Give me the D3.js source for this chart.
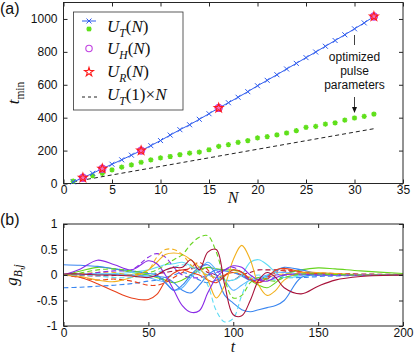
<!DOCTYPE html>
<html>
<head>
<meta charset="utf-8">
<script src="https://cdn.jsdelivr.net/npm/d3@7"></script>
<style>
body { margin: 0; background: #fff; }
svg { display: block; }
.tk text { font-family: "Liberation Sans", Arial, sans-serif; font-size: 12px; fill: #111; }
.tk line { stroke: #262626; }
.mth { font-family: "Liberation Serif", "Times New Roman", serif; fill: #111; }
.lbl { font-family: "Liberation Sans", Arial, sans-serif; fill: #111; }
</style>
</head>
<body>
<svg id="chart" width="415" height="357"></svg>
<script>
// ---- datos panel (a) ----
const nAll = [1,2,3,4,5,6,7,8,9,10,11,12,13,14,15,16,17,18,19,20,21,22,23,24,25,26,27,28,29,30,31,32];
const utVals = [10,35,62,90,117,144,172,200,230,261,294,327,357,390,424,459,491,524,558,594,627,661,696,730,765,799,834,869,904,940,976,1015];
const greenVals = [14,30,48,62,83,99,113,129,144,156,164,176,184,191,205,226,236,250,261,277,285,295,307,321,341,347,361,369,385,398,408,422];
const nSub = [2,4,8,16,32];
const uhVals = [35,90,200,459,1015];
const urVals = [35,90,200,459,1015];
const nLin = [1,32];
const linVals = [10.4,333];
const xTicksA = [0,5,10,15,20,25,30,35];
const yTicksA = [0,200,400,600,800,1000];

// ---- datos panel (b) ----
const tGrid = [0,10,20,30,40,50,55,60,65,70,75,80,85,90,95,100,105,110,115,120,125,130,140,150,160,175,200];
const gRedS = [0,-0.05,-0.17,-0.32,-0.45,-0.48,-0.38,-0.12,0.04,0.1,0.05,0,-0.1,-0.15,-0.02,0.1,0.06,-0.08,-0.15,-0.05,0.1,0.13,0.06,0.02,0.01,0,0];
const gPurpleS = [0,0.12,0.29,0.2,0.1,0.28,0.22,0,-0.3,-0.6,-0.73,-0.7,-0.35,-0.05,0.1,0.18,0.15,0,-0.1,-0.12,-0.05,0,0.02,0,0,0,0];
const gGreenD = [0,0.04,0.1,0.12,0.08,0.05,0.1,0.2,0.3,0.4,0.6,0.74,0.77,0.45,-0.1,-0.45,-0.4,-0.15,-0.05,-0.1,-0.12,-0.05,0.02,0.02,0.01,0,0];
const gDarkRedS = [0.02,0.02,0,0,-0.02,-0.05,0,0.1,0.15,0.15,0.3,0.1,0.45,0.5,-0.2,-0.78,-0.8,-0.5,-0.1,0.05,-0.05,-0.25,-0.37,-0.22,-0.1,-0.03,0];
const gYellowS = [0,-0.03,-0.1,-0.13,-0.05,0.1,0.25,0.4,0.43,0.4,0.3,0.15,-0.1,-0.45,-0.2,0.3,0.58,0.3,-0.2,-0.4,-0.3,-0.1,0.05,0.05,0.03,0.01,0];
const gOrangeD = [0,0.02,0.05,0.05,0,0.1,0.35,0.5,0.5,0.4,0.2,0.05,0,-0.05,0,0.05,0.05,-0.05,-0.1,-0.05,0,0.02,0.02,0.01,0,0,0];
const gCyanD = [0,0,-0.02,-0.05,-0.05,0,0.05,0.1,0.15,0.2,0.15,0.05,-0.2,-0.7,-0.92,-0.85,-0.4,-0.05,0,-0.05,-0.1,-0.05,0,0,0,0,0];
const gCyanS = [0,0.01,0.02,0.03,0.05,0.1,0.15,0.2,0.22,0.25,0.18,0.1,0,-0.05,-0.1,-0.1,0,0.25,0.3,0.2,0.05,-0.05,-0.02,0,0,0,0];
const gBlueS1 = [0.2,0.19,0.17,0.12,0.08,0.03,0,-0.15,-0.3,-0.2,0,0.15,0.2,0,-0.4,-0.55,-0.68,-0.72,-0.68,-0.64,-0.6,-0.5,-0.05,0,0,0,0];
const gBlueS2 = [0.02,0.02,0.02,0.01,0,-0.02,-0.03,-0.05,-0.15,-0.3,-0.35,-0.2,0,0.1,0.08,0.05,-0.02,-0.1,-0.08,-0.02,0.08,0.15,0.1,0.03,0.01,0,0];
const gBlueD = [-0.25,-0.24,-0.22,-0.2,-0.17,-0.12,-0.1,-0.05,0,0.05,0,-0.1,-0.15,-0.1,0,0.05,0,-0.08,-0.1,-0.08,-0.05,-0.05,-0.05,-0.03,-0.02,-0.01,0];
const gLightBlueS = [0,0.01,0.02,0.01,0,-0.05,-0.1,-0.15,-0.3,-0.25,-0.05,0.1,0.25,0.1,-0.1,-0.3,-0.2,-0.1,-0.05,0,0.05,0.05,0.02,0,0,0,0];
const gRedD = [0,-0.05,-0.1,-0.08,-0.12,-0.2,-0.2,-0.15,-0.05,0.05,0.15,0.25,0.1,-0.1,0,0.05,0,-0.1,-0.15,-0.08,0.05,0.1,0.05,0.03,0.02,0.01,0];
const gGreenS = [0,0.08,0.15,0.12,0.05,0,-0.05,-0.1,-0.15,-0.1,0,0.1,0.15,0.12,0.1,0.1,0.05,-0.1,-0.2,-0.25,-0.15,0,0.1,0.14,0.12,0.08,0.03];
const gPurpleD = [0,0,0.05,0.08,0.1,0.35,0.42,0.35,0.15,0,-0.05,-0.05,0,0.05,0.1,0.15,0.05,-0.1,-0.1,-0.05,0,0,0,0,0,0,0];
const gDarkRedD = [0,-0.01,-0.02,-0.01,0,0.02,0.03,0.05,0.08,0.1,0.12,0.15,0.05,0,-0.1,-0.1,0,0.05,0.1,0.1,0.1,0.08,0.06,0.04,0.03,0.02,0.01];
const xTicksB = [0,50,100,150,200];
const yTicksB = [-1,-0.5,0,0.5,1];

// estilos de las curvas (color, discontinua)
const gCurves = [gBlueD, gDarkRedD, gGreenS, gBlueS2, gLightBlueS, gRedD, gCyanS, gOrangeD, gPurpleD, gRedS, gBlueS1, gYellowS, gCyanD, gPurpleS, gGreenD, gDarkRedS];
const gColors = ['#3a86f0','#a8123a','#66d41e','#3a86f0','#5ab4ff','#e8401a','#5fdcf5','#f2b01c','#8a2ae6','#e8401a','#3a86f0','#f2b01c','#5fdcf5','#8a2ae6','#66d41e','#a8123a'];
const gDashed = [true,true,false,false,false,true,false,true,true,false,false,false,true,false,true,false];

const svg = d3.select('#chart');

function drawFrame(x, y, xt, yt, xFmt, yFmt) {
    const [l, r] = x.range(), [b, t] = y.range();
    svg.append('g').attr('class', 'tk').attr('transform', `translate(0,${b})`)
        .call(d3.axisBottom(x).tickValues(xt).tickSizeInner(-4).tickSizeOuter(0).tickPadding(2).tickFormat(xFmt))
        .call(g => g.select('.domain').remove());
    svg.append('g').attr('class', 'tk').attr('transform', `translate(0,${t})`)
        .call(d3.axisTop(x).tickValues(xt).tickSizeInner(-4).tickSizeOuter(0).tickFormat(''))
        .call(g => g.select('.domain').remove());
    svg.append('g').attr('class', 'tk').attr('transform', `translate(${l},0)`)
        .call(d3.axisLeft(y).tickValues(yt).tickSizeInner(-4).tickSizeOuter(0).tickPadding(6).tickFormat(yFmt))
        .call(g => g.select('.domain').remove());
    svg.append('g').attr('class', 'tk').attr('transform', `translate(${r},0)`)
        .call(d3.axisRight(y).tickValues(yt).tickSizeInner(-4).tickSizeOuter(0).tickFormat(''))
        .call(g => g.select('.domain').remove());
    svg.append('rect').attr('x', l).attr('y', t).attr('width', r - l).attr('height', b - t)
        .attr('fill', 'none').attr('stroke', '#262626').attr('stroke-width', 1);
}

// texto matemático: [texto, estilo] con i = cursiva, n = normal, s = subíndice
function mathText(parent, x, y, size, parts, anchor) {
    const txt = parent.append('text').attr('class', 'mth').attr('x', x).attr('y', y)
        .attr('font-size', size).attr('text-anchor', anchor || 'start');
    let shift = 0;
    parts.forEach(p => {
        const sub = p[1].includes('s');
        const dy = (sub ? size * 0.28 : 0) - shift;
        shift += dy;
        txt.append('tspan').text(p[0])
            .attr('dy', dy)
            .attr('font-size', sub ? size * 0.68 : size)
            .attr('font-style', p[1].includes('i') ? 'italic' : 'normal');
    });
    return txt;
}

///// PANEL (a) /////
const xA = d3.scaleLinear().domain([0, 35]).range([63.5, 403]);
const yA = d3.scaleLinear().domain([0, 1100]).range([183.5, 2.5]);
drawFrame(xA, yA, xTicksA, yTicksA, d => d, d => d);

const xMark = 'M-2.5,-2.5L2.5,2.5M-2.5,2.5L2.5,-2.5';
const astMark = 'M-2.6,0H2.6M0,-2.6V2.6M-1.9,-1.9L1.9,1.9M-1.9,1.9L1.9,-1.9';
const starSym = d3.symbol(d3.symbolStar, 24);

svg.append('path')
    .datum(nLin.map((n, i) => [n, linVals[i]]))
    .attr('d', d3.line().x(d => xA(d[0])).y(d => yA(d[1])))
    .attr('fill', 'none').attr('stroke', '#222').attr('stroke-width', 1).attr('stroke-dasharray', '4,3');

svg.selectAll('.gr').data(nAll).enter().append('path')
    .attr('transform', (d, i) => `translate(${xA(d)},${yA(greenVals[i])})`)
    .attr('d', astMark).attr('stroke', '#5fe01a').attr('stroke-width', 1.4).attr('fill', 'none');

svg.append('path')
    .datum(nAll.map((n, i) => [n, utVals[i]]))
    .attr('d', d3.line().x(d => xA(d[0])).y(d => yA(d[1])))
    .attr('fill', 'none').attr('stroke', '#2f5cee').attr('stroke-width', 1);
svg.selectAll('.ut').data(nAll).enter().append('path')
    .attr('transform', (d, i) => `translate(${xA(d)},${yA(utVals[i])})`)
    .attr('d', xMark).attr('stroke', '#2f5cee').attr('stroke-width', 1);

svg.selectAll('.uh').data(nSub).enter().append('circle')
    .attr('cx', d => xA(d)).attr('cy', (d, i) => yA(uhVals[i])).attr('r', 3.6)
    .attr('fill', '#f070c0').attr('stroke', '#c040e0').attr('stroke-width', 1.1);
svg.selectAll('.ur').data(nSub).enter().append('path')
    .attr('transform', (d, i) => `translate(${xA(d)},${yA(urVals[i])})`)
    .attr('d', starSym).attr('fill', 'none').attr('stroke', '#ff1a1a').attr('stroke-width', 1.1);

// anotación
const annX = xA(30);
svg.append('line').attr('x1', annX).attr('x2', annX).attr('y1', 35).attr('y2', 45).attr('stroke', '#111').attr('stroke-width', 0.8);
['optimized', 'pulse', 'parameters'].forEach((s, i) => {
    svg.append('text').attr('class', 'lbl').attr('x', annX).attr('y', 61 + i * 14)
        .attr('font-size', 12).attr('text-anchor', 'middle').text(s);
});
svg.append('line').attr('x1', annX).attr('x2', annX).attr('y1', 97).attr('y2', 108).attr('stroke', '#111').attr('stroke-width', 0.8);
svg.append('path').attr('d', `M${annX - 2.5},107L${annX + 2.5},107L${annX},113Z`).attr('fill', '#111');

// leyenda
const leg = svg.append('g');
leg.append('rect').attr('x', 73.5).attr('y', 12).attr('width', 109.5).attr('height', 98)
    .attr('fill', '#fff').attr('stroke', '#333').attr('stroke-width', 0.8);
leg.append('line').attr('x1', 82).attr('x2', 96).attr('y1', 21).attr('y2', 21).attr('stroke', '#2f5cee').attr('stroke-width', 1);
leg.append('path').attr('transform', 'translate(89,21)').attr('d', xMark).attr('stroke', '#2f5cee').attr('stroke-width', 1);
leg.append('path').attr('transform', 'translate(89,29)').attr('d', astMark).attr('stroke', '#5fe01a').attr('stroke-width', 1.4);
leg.append('circle').attr('cx', 89).attr('cy', 48.5).attr('r', 3.2).attr('fill', 'none').attr('stroke', '#c040e0').attr('stroke-width', 1.1);
leg.append('path').attr('transform', 'translate(89,72)').attr('d', starSym).attr('fill', 'none').attr('stroke', '#ff1a1a').attr('stroke-width', 1.1);
leg.append('line').attr('x1', 82).attr('x2', 97).attr('y1', 97).attr('y2', 97).attr('stroke', '#222').attr('stroke-dasharray', '3,3');
mathText(leg, 107, 32, 17, [['U','i'],['T','si'],['(','n'],['N','i'],[')','n']]);
mathText(leg, 107, 54, 17, [['U','i'],['H','si'],['(','n'],['N','i'],[')','n']]);
mathText(leg, 107, 77, 17, [['U','i'],['R','si'],['(','n'],['N','i'],[')','n']]);
mathText(leg, 107, 100, 17, [['U','i'],['T','si'],['(1)×','n'],['N','i']]);

svg.append('text').attr('class', 'lbl').attr('x', 0).attr('y', 14).attr('font-size', 16).text('(a)');
mathText(svg, 233, 203, 16, [['N','i']], 'middle');
mathText(svg.append('g').attr('transform', 'translate(19,93) rotate(-90)'), 0, 0, 17, [['t','i'],['min','sn']], 'middle');

///// PANEL (b) /////
const xB = d3.scaleLinear().domain([0, 200]).range([63.5, 403]);
const yB = d3.scaleLinear().domain([-1, 1]).range([326, 224]);

const lineB = d3.line().x((d, i) => xB(tGrid[i])).y(d => yB(d)).curve(d3.curveCatmullRom.alpha(0.5));
svg.append('g').selectAll('path').data(gCurves).enter().append('path')
    .attr('d', d => lineB(d))
    .attr('fill', 'none')
    .attr('stroke', (d, i) => gColors[i])
    .attr('stroke-width', 1.1)
    .attr('stroke-dasharray', (d, i) => gDashed[i] ? '5,3' : null);

drawFrame(xB, yB, xTicksB, yTicksB, d => String(d), d => String(d));

svg.append('text').attr('class', 'lbl').attr('x', 0).attr('y', 225).attr('font-size', 16).text('(b)');
mathText(svg, 233, 352, 16, [['t','i']], 'middle');
mathText(svg.append('g').attr('transform', 'translate(17,275) rotate(-90)'), 0, 0, 17, [['g','i'],['B,j','si']], 'middle');
</script>
</body>
</html>
